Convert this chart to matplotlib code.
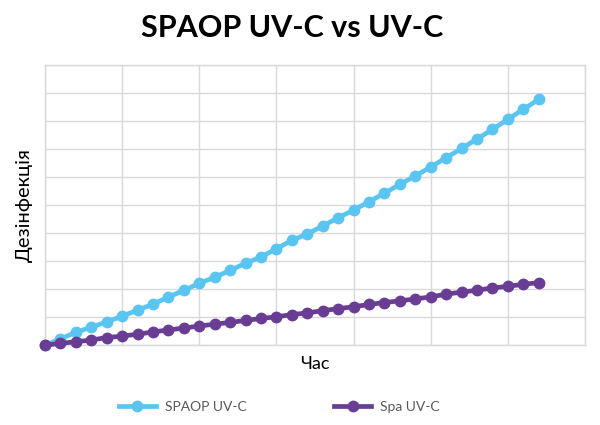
import matplotlib
matplotlib.use("Agg")
import matplotlib.pyplot as plt

x_points = list(range(33))
spaop_uvc = [0, 0.22, 0.46, 0.64, 0.83, 1.03, 1.25, 1.46, 1.72, 1.95,
             2.21, 2.42, 2.67, 2.92, 3.15, 3.44, 3.74, 3.97, 4.25, 4.55,
             4.82, 5.12, 5.42, 5.74, 6.04, 6.36, 6.69, 7.02, 7.36, 7.70,
             8.06, 8.42, 8.77]
spa_uvc = [0, 0.06, 0.12, 0.18, 0.27, 0.32, 0.39, 0.47, 0.54, 0.61,
           0.68, 0.75, 0.81, 0.88, 0.95, 1.01, 1.09, 1.15, 1.23, 1.30,
           1.37, 1.45, 1.52, 1.58, 1.65, 1.72, 1.82, 1.89, 1.96, 2.04,
           2.10, 2.17, 2.23]
series_names = ["SPAOP UV-C", "Spa UV-C"]

plt.rcParams['font.family'] = ['Lato', 'DejaVu Sans']

fig = plt.figure(figsize=(6, 4.25), dpi=100)
ax = fig.add_axes([0.075, 0.188, 0.90, 0.659])

grid_c = "#d9d9d9"
ax.plot(x_points, spaop_uvc, color="#5BC5F2", lw=3.4, marker="o", ms=7.5,
        label=series_names[0], zorder=3, clip_on=False)
ax.plot(x_points, spa_uvc, color="#6A3D94", lw=3.4, marker="o", ms=7.5,
        label=series_names[1], zorder=4, clip_on=False)

ax.set_xlim(0, 35)
ax.set_ylim(0, 10)
ax.set_xticks(range(0, 36, 5))
ax.set_yticks(range(0, 11, 1))
ax.tick_params(length=0, labelbottom=False, labelleft=False)
ax.grid(True, color=grid_c, lw=1)
ax.set_axisbelow(True)
for s in ax.spines.values():
    s.set_color(grid_c)
    s.set_linewidth(1)

fig.text(0.487, 0.935, "SPAOP UV-C vs UV-C", ha="center", va="center",
         fontsize=22, fontweight="bold", color="black")
ax.set_xlabel("Час", fontsize=13, labelpad=8)
ax.set_ylabel("Дезінфекція", fontsize=14.5, labelpad=9)

fig.legend(loc="center", bbox_to_anchor=(0.465, 0.043), ncol=2, frameon=False,
           fontsize=10, handlelength=2.7, handletextpad=0.6, columnspacing=6.3,
           labelcolor="#595959")

fig.savefig("out.png", dpi=100)
